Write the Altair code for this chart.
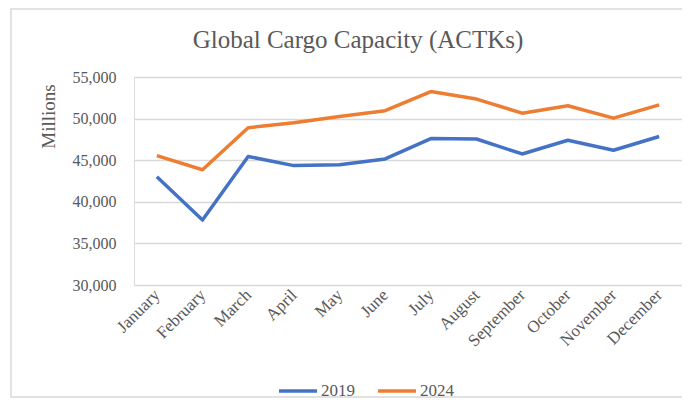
import altair as alt
import pandas as pd

months = ["January", "February", "March", "April", "May", "June", "July",
          "August", "September", "October", "November", "December"]
cap_2019 = [43000, 37800, 45450, 44350, 44450, 45150, 47600, 47550, 45750, 47400, 46200, 47850]
cap_2024 = [45550, 43850, 48900, 49500, 50250, 50950, 53250, 52350, 50650, 51550, 50050, 51650]
series = ["2019", "2024"]
colors = ["#4472C4", "#ED7D31"]
y_ticks = [30000, 35000, 40000, 45000, 50000, 55000]

rows = []
for m, a, b in zip(months, cap_2019, cap_2024):
    rows.append({"Month": m, "Series": series[0], "Value": a})
    rows.append({"Month": m, "Series": series[1], "Value": b})
df = pd.DataFrame(rows)

FONT = "Liberation Serif"
GRAY = "#595959"

frame = alt.Chart(pd.DataFrame({"a": [0]})).mark_rect(
    fillOpacity=0, stroke="#d9d9d9", strokeWidth=1.5
).encode(
    x=alt.value(-123), x2=alt.value(570), y=alt.value(-68), y2=alt.value(320)
)

lines = alt.Chart(df).mark_line(strokeWidth=3.5, strokeJoin="round").encode(
    x=alt.X("Month:N", sort=months,
            scale=alt.Scale(padding=0.5),
            axis=alt.Axis(title=None, labelAngle=-45, labelAlign="right",
                          labelBaseline="middle", labelPadding=7,
                          labelFont=FONT, labelFontSize=17, labelColor=GRAY,
                          ticks=False, domain=False, grid=False)),
    y=alt.Y("Value:Q", scale=alt.Scale(domain=[30000, 55000], nice=False, zero=False),
            axis=alt.Axis(values=y_ticks, format=",.0f", title="Millions",
                          titleFont=FONT, titleFontSize=19, titleFontWeight="normal",
                          titleColor=GRAY, titleAngle=270, titleAlign="center",
                          titleBaseline="middle", titleX=-86, titleY=39,
                          labelFont=FONT, labelFontSize=16, labelColor=GRAY,
                          labelPadding=18, ticks=False, domain=False,
                          grid=True, gridColor="#d9d9d9", gridWidth=1.5)),
    color=alt.Color("Series:N", scale=alt.Scale(domain=series, range=colors),
                    legend=alt.Legend(orient="none", direction="horizontal",
                                      legendX=143, legendY=293, title=None,
                                      symbolType="stroke", symbolSize=1444,
                                      symbolStrokeWidth=3.5, labelFont=FONT,
                                      labelFontSize=17, labelColor=GRAY,
                                      labelOffset=2, columnPadding=16)),
    order=alt.Order("Series:N"),
)

chart = alt.layer(frame, lines).properties(
    width=548, height=208,
    title=alt.TitleParams("Global Cargo Capacity (ACTKs)", font=FONT, fontSize=25,
                          fontWeight="normal", color=GRAY, anchor="middle",
                          frame="group", dx=-50, dy=95, offset=30,
                          baseline="alphabetic"),
    padding={"left": 126, "top": 69, "right": 0, "bottom": 120},
    autosize=alt.AutoSizeParams(type="none"),
).configure_view(stroke=None).configure(background="white")

chart.save("out.html", embed_options={"renderer": "svg", "actions": False})
